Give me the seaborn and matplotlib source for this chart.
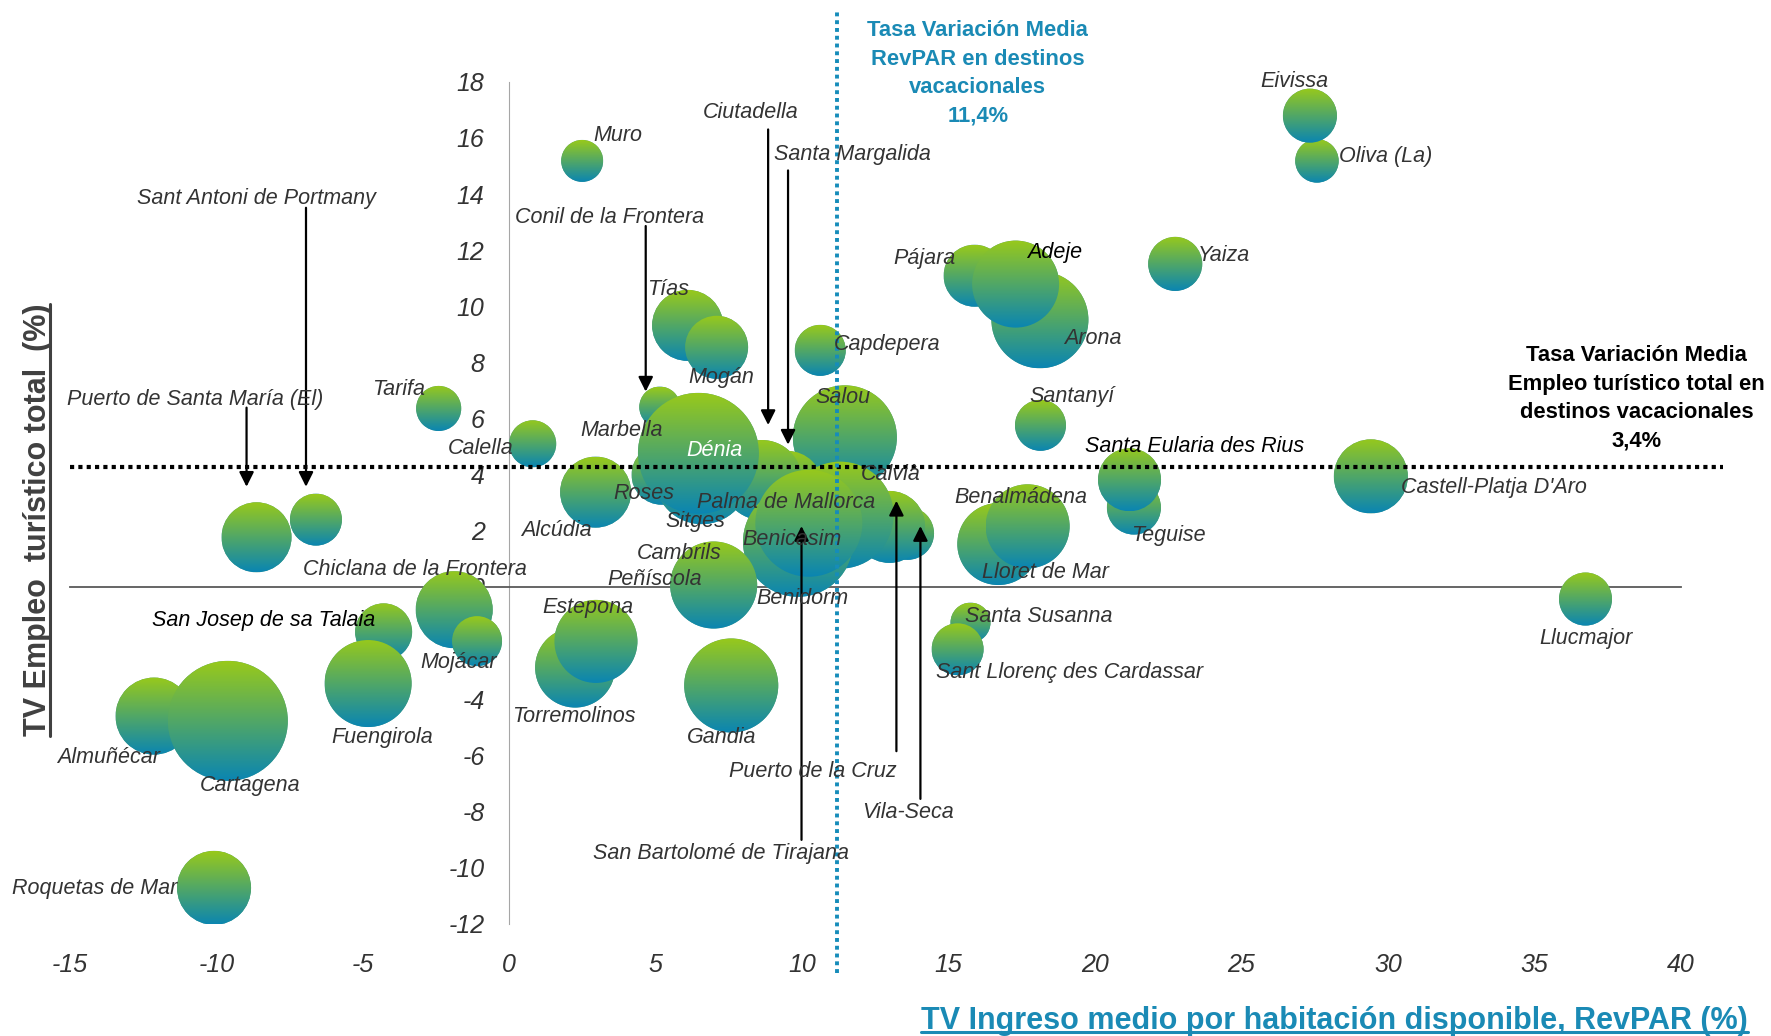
import matplotlib
matplotlib.use('Agg')
import matplotlib.pyplot as plt
import matplotlib.path as mpath
import matplotlib.transforms as mtransforms
from matplotlib.colors import LinearSegmentedColormap
from matplotlib.lines import Line2D
import numpy as np
import pandas as pd
import seaborn as sns

sns.set_style('white')
plt.rcParams['font.family'] = ['Liberation Sans', 'DejaVu Sans']
plt.rcParams['axes.unicode_minus'] = False

# data (draw order: first = bottom)
destinos = [
    'Oliva (La)', 'Eivissa', 'Muro', 'Yaiza', 'Pájara', 'Arona', 'Adeje', 'Tías',
    'Mogán', 'Capdepera', 'Santanyí', 'Tarifa', 'Calella', 'Salou',
    'Conil de la Frontera', 'Marbella', 'Roses', 'Santa Margalida', 'Ciutadella',
    'Sitges', 'Dénia', 'Alcúdia', 'Vila-Seca', 'Puerto de la Cruz', 'Calvià',
    'San Bartolomé de Tirajana', 'Benicasim', 'Benidorm', 'Palma de Mallorca',
    'Peñíscola', 'Cambrils', 'Teguise', 'Santa Eularia des Rius',
    "Castell-Platja D'Aro", 'Lloret de Mar', 'Benalmádena', 'Santa Susanna',
    'Sant Llorenç des Cardassar', 'Llucmajor', 'Gandia', 'Torremolinos',
    'Estepona', 'Chiclana de la Frontera', 'Mojácar', 'San Josep de sa Talaia',
    'Fuengirola', 'Almuñécar', 'Cartagena', 'Roquetas de Mar',
    'Puerto de Santa María (El)', 'Sant Antoni de Portmany',
]
revpar = [
    27.58, 27.34, 2.49, 22.74, 15.89, 18.12, 17.29, 6.09,
    7.08, 10.62, 18.14, -2.41, 0.80, 11.46,
    5.14, 6.00, 5.20, 9.50, 8.63,
    6.58, 6.46, 2.95, 13.60, 12.98, 11.30,
    10.00, 10.00, 9.86, 10.23,
    7.00, 6.98, 21.33, 21.18,
    29.42, 16.70, 17.70, 15.75,
    15.31, 36.75, 7.58, 2.25,
    2.96, -1.88, -1.10, -4.29,
    -4.82, -12.13, -9.61, -10.08,
    -8.63, -6.60,
]
empleo = [
    15.18, 16.79, 15.18, 11.51, 11.09, 9.52, 10.79, 9.32,
    8.54, 8.43, 5.76, 6.36, 5.10, 5.33,
    6.41, 5.20, 4.00, 3.60, 3.81,
    3.93, 4.76, 3.38, 1.91, 2.14, 2.56,
    2.40, 2.00, 1.61, 2.27,
    0.50, 0.07, 2.83, 3.82,
    3.94, 1.53, 2.16, -1.27,
    -2.22, -0.43, -3.51, -2.87,
    -1.94, -0.81, -1.93, -1.60,
    -3.44, -4.60, -4.77, -10.72,
    1.77, 2.40,
]
plazas = [
    18.9, 29.2, 17.6, 29.2, 38.4, 94.1, 75.7, 50.4,
    39.7, 26.0, 26.0, 20.3, 22.1, 108.2,
    16.8, 36.0, 36.0, 49.0, 64.0,
    90.3, 146.4, 50.4, 28.1, 51.8, 114.5,
    36.0, 81.0, 121.0, 114.5,
    36.0, 75.7, 29.2, 39.7,
    54.8, 67.2, 70.6, 16.0,
    27.0, 28.1, 88.4, 64.0,
    68.9, 59.3, 25.0, 32.5,
    75.7, 59.3, 144.0, 54.8,
    49.0, 27.0,
]

x_ticks = list(range(-15, 41, 5))
y_ticks = list(range(-12, 19, 2))
revpar_media = 11.4
empleo_media = 3.4
# the dotted reference lines sit slightly off the stated averages in the original
revpar_linea = 11.2
empleo_linea = 4.26

# label centres (data coords)
label_pos = {
    'Muro': (3.72, 16.08), 'Eivissa': (26.8, 18.02), 'Oliva (La)': (29.93, 15.32),
    'Yaiza': (24.4, 11.81), 'Pájara': (14.18, 11.69), 'Adeje': (18.62, 11.93),
    'Arona': (19.93, 8.87), 'Capdepera': (12.9, 8.63), 'Tías': (5.42, 10.61),
    'Mogán': (7.23, 7.47), 'Santanyí': (19.2, 6.78),
    'Santa Eularia des Rius': (23.4, 5.01), "Castell-Platja D'Aro": (33.62, 3.53),
    'Teguise': (22.5, 1.84), 'Benalmádena': (17.46, 3.17),
    'Lloret de Mar': (18.31, 0.51), 'Calvià': (13.02, 4.01), 'Salou': (11.4, 6.74),
    'Dénia': (7.0, 4.85), 'Marbella': (3.84, 5.58), 'Calella': (-0.99, 4.94),
    'Tarifa': (-3.77, 7.03), 'Puerto de Santa María (El)': (-10.71, 6.67),
    'Sant Antoni de Portmany': (-8.63, 13.83), 'Conil de la Frontera': (3.42, 13.16),
    'Ciutadella': (8.24, 16.89), 'Santa Margalida': (11.71, 15.4),
    'Roses': (4.61, 3.33), 'Palma de Mallorca': (9.47, 3.01), 'Sitges': (6.35, 2.32),
    'Alcúdia': (1.6, 2.0), 'Benicasim': (9.66, 1.68), 'Cambrils': (5.8, 1.2),
    'Peñíscola': (4.96, 0.27), 'Benidorm': (10.0, -0.41),
    'Chiclana de la Frontera': (-3.22, 0.63), 'Estepona': (2.68, -0.74),
    'San Josep de sa Talaia': (-8.4, -1.18), 'Mojácar': (-1.72, -2.7),
    'Torremolinos': (2.22, -4.6), 'Gandia': (7.27, -5.36), 'Fuengirola': (-4.34, -5.36),
    'Almuñécar': (-13.69, -6.09), 'Cartagena': (-8.86, -7.09),
    'Roquetas de Mar': (-14.15, -10.76), 'Santa Susanna': (18.08, -1.06),
    'Sant Llorenç des Cardassar': (19.12, -3.03), 'Llucmajor': (36.76, -1.82),
    'Puerto de la Cruz': (10.36, -6.57), 'Vila-Seca': (13.6, -8.02),
    'San Bartolomé de Tirajana': (7.23, -9.51),
}
black_labels = ['Adeje', 'San Josep de sa Talaia', 'Santa Eularia des Rius']

# leader arrows: (x, y_from, y_to)
arrows = [
    (-6.94, 13.51, 3.57), (-8.97, 6.39, 3.57), (4.66, 12.86, 6.96),
    (8.84, 16.3, 5.77), (9.52, 14.84, 5.07), (9.98, -9.01, 2.17),
    (13.22, -5.85, 3.07), (14.04, -7.55, 2.17),
]

teal = '#1a8ab5'
txt_gray = '#333333'

df = pd.DataFrame({'destino': destinos, 'revpar': revpar,
                   'empleo': empleo, 'plazas': plazas})

W, H = 1771, 1036
fig = plt.figure(figsize=(W / 100, H / 100), dpi=100)
ax = fig.add_axes([0.0395, 0.1083, 0.9095, 0.8128])

vmax = max(plazas)
sns.scatterplot(data=df, x='revpar', y='empleo', size='plazas',
                sizes=(0, 51.84 * vmax), size_norm=(0, vmax),
                color='#4f9f8a', linewidth=0, legend=False, ax=ax, zorder=2)
ax.set_xlim(-15, 40)
ax.set_ylim(-12, 18)

# gradient fill for every bubble, clipped to the marker circle
coll = ax.collections[0]
sizes = coll.get_sizes()
offsets = coll.get_offsets()
cmap = LinearSegmentedColormap.from_list('burbuja', ['#98c91b', '#0a85b2'])
grad = np.linspace(0, 1, 256).reshape(-1, 1)
p0 = ax.transData.transform((0, 0))
px_x = ax.transData.transform((1, 0))[0] - p0[0]
px_y = ax.transData.transform((0, 1))[1] - p0[1]
circle = mpath.Path.unit_circle()
for (x, y), s in zip(offsets, sizes):
    r_pt = np.sqrt(s) / 2
    r_px = r_pt * fig.dpi / 72
    rx, ry = r_px / px_x, r_px / px_y
    im = ax.imshow(grad, cmap=cmap, extent=[x - rx, x + rx, y - ry, y + ry],
                   aspect='auto', origin='upper', zorder=3, interpolation='bilinear')
    tr = (mtransforms.Affine2D().scale(r_pt / 72) + fig.dpi_scale_trans
          + mtransforms.ScaledTranslation(x, y, ax.transData))
    im.set_clip_path(circle, tr)

ax.set_xlim(-15, 40)
ax.set_ylim(-12, 18)

# axes through the origin, x labels kept at the bottom
ax.spines['top'].set_visible(False)
ax.spines['right'].set_visible(False)
ax.spines['left'].set_position(('data', 0))
ax.spines['left'].set_color('#a6a6a6')
ax.spines['bottom'].set_position(('data', 0))
ax.spines['bottom'].set_color('#595959')
ax.spines['bottom'].set_linewidth(1.3)
ax.spines['left'].set_zorder(1)
ax.spines['bottom'].set_zorder(1)

ax.set_xticks(x_ticks, labels=[str(t) for t in x_ticks], fontstyle='italic')
ax.set_yticks(y_ticks, labels=[str(t) for t in y_ticks], fontstyle='italic')
drop_px = p0[1] - ax.transData.transform((0, -12))[1]
ax.tick_params(axis='x', direction='out', length=5.8, width=1, color='#595959',
               labelsize=18, labelcolor=txt_gray, pad=(drop_px + 21) * 72 / fig.dpi)
ax.tick_params(axis='y', direction='out', length=5.8, width=1, color='#a6a6a6',
               labelsize=18, labelcolor=txt_gray, pad=12)
ax.set_xlabel('')
ax.set_ylabel('')

# reference lines
ax.plot([-15, 41.45], [empleo_linea, empleo_linea], color='black', lw=3,
        ls=(0, (1, 1)), clip_on=False, zorder=4)
ax.plot([revpar_linea, revpar_linea], [-13.77, 20.5], color='#168cba', lw=2.8,
        ls=(0, (1, 1)), clip_on=False, zorder=4)

ax.text(16.0, 18.3, 'Tasa Variación Media\nRevPAR en destinos\nvacacionales\n'
        + f'{revpar_media:.1f}%'.replace('.', ','),
        ha='center', va='center', fontsize=15.8, fontweight='bold', color=teal,
        linespacing=1.46, clip_on=False, zorder=6)
ax.text(38.49, 6.72, 'Tasa Variación Media\nEmpleo turístico total en\ndestinos vacacionales\n'
        + f'{empleo_media:.1f}%'.replace('.', ','),
        ha='center', va='center', fontsize=15.8, fontweight='bold', color='black',
        linespacing=1.46, clip_on=False, zorder=6)

for x, y0, y1 in arrows:
    ax.annotate('', xy=(x, y1), xytext=(x, y0),
                arrowprops=dict(arrowstyle='-|>', color='black', lw=1.6,
                                mutation_scale=22, shrinkA=0, shrinkB=0),
                zorder=5, annotation_clip=False)

for name in destinos:
    lx, ly = label_pos[name]
    col = 'white' if name == 'Dénia' else ('black' if name in black_labels else txt_gray)
    ax.text(lx, ly, name, ha='center', va='center', fontsize=15.5,
            fontstyle='italic', color=col, zorder=6, clip_on=False)

# axis titles (bold, underlined) placed on their baselines
xl = fig.text(1748 / W, 1 - 1029 / H, 'TV Ingreso medio por habitación disponible, RevPAR (%)',
              ha='right', va='baseline', fontsize=22, fontweight='bold', color=teal)
yl = fig.text(46 / W, 1 - 520 / H, 'TV Empleo  turístico total  (%)', rotation=90,
              rotation_mode='anchor', ha='center', va='baseline',
              fontsize=22, fontweight='bold', color='#404040')

fig.canvas.draw()
renderer = fig.canvas.get_renderer()
bb = xl.get_window_extent(renderer).transformed(fig.transFigure.inverted())
fig.add_artist(Line2D([bb.x0, bb.x1], [1 - 1032 / H] * 2, color=teal, lw=2.2,
                      transform=fig.transFigure))
bb = yl.get_window_extent(renderer).transformed(fig.transFigure.inverted())
fig.add_artist(Line2D([49.5 / W] * 2, [bb.y0, bb.y1], color='#404040', lw=2.2,
                      transform=fig.transFigure))

fig.savefig('out.png', dpi=100)
